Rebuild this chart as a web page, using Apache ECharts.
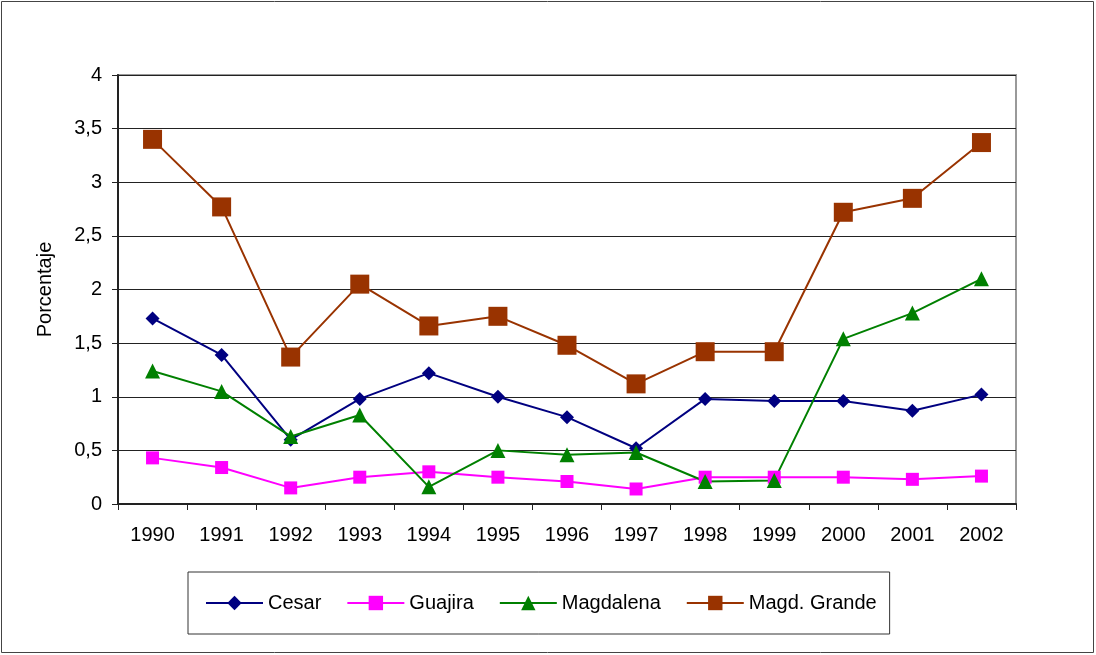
<!DOCTYPE html>
<html>
<head>
<meta charset="utf-8">
<script src="https://cdn.jsdelivr.net/npm/echarts@6/dist/echarts.min.js"></script>
<style>
  html, body { margin: 0; padding: 0; background: #fff; }
  #chart { width: 1096px; height: 655px; }
</style>
</head>
<body>
<div id="chart"></div>
<script>
// años
var years = ["1990", "1991", "1992", "1993", "1994", "1995", "1996", "1997", "1998", "1999", "2000", "2001", "2002"];

// porcentajes por departamento
var cesar = [1.73, 1.39, 0.60, 0.98, 1.22, 1.00, 0.81, 0.52, 0.98, 0.96, 0.96, 0.87, 1.02];
var guajira = [0.43, 0.34, 0.15, 0.25, 0.30, 0.25, 0.21, 0.14, 0.25, 0.25, 0.25, 0.23, 0.26];
var magdalena = [1.24, 1.05, 0.63, 0.83, 0.16, 0.50, 0.46, 0.48, 0.21, 0.22, 1.54, 1.78, 2.10];
var magdGrande = [3.40, 2.77, 1.37, 2.05, 1.66, 1.75, 1.48, 1.12, 1.42, 1.42, 2.72, 2.85, 3.37];

var fontFam = "'Liberation Sans', Arial, sans-serif";

var chart = echarts.init(document.getElementById("chart"));

function serie(name, data, color, symbol, size) {
  return {
    name: name,
    type: "line",
    data: data,
    symbol: symbol,
    symbolSize: size,
    showAllSymbol: true,
    animation: false,
    lineStyle: { color: color, width: 2 },
    itemStyle: { color: color },
    z: 3
  };
}

chart.setOption({
  animation: false,
  graphic: [
    {
      type: "rect",
      shape: { x: 1.5, y: 1.5, width: 1092, height: 651 },
      style: { fill: "none", stroke: "#444", lineWidth: 1 },
      silent: true
    },
    {
      type: "rect",
      shape: { x: 118, y: 75, width: 898, height: 429 },
      style: { fill: "none", stroke: "#999", lineWidth: 2 },
      silent: true,
      z: 0
    }
  ],
  grid: {
    left: 118,
    top: 75,
    right: 80,
    bottom: 151,
    containLabel: false
  },
  legend: {
    left: 188,
    top: 572,
    padding: [21, 13, 21, 17],
    borderColor: "#333",
    borderWidth: 1,
    itemGap: 25,
    itemWidth: 57,
    itemHeight: 18,
    textStyle: { fontFamily: fontFam, fontSize: 20, color: "#000" },
    data: ["Cesar", "Guajira", "Magdalena", "Magd. Grande"]
  },
  xAxis: {
    type: "category",
    data: years,
    boundaryGap: true,
    axisLine: { lineStyle: { color: "#222", width: 2 } },
    axisTick: { show: true, alignWithLabel: false, length: 6, lineStyle: { color: "#222" } },
    axisLabel: { fontFamily: fontFam, fontSize: 20, color: "#000", margin: 21 },
    splitLine: { show: false }
  },
  yAxis: {
    type: "value",
    min: 0,
    max: 4,
    interval: 0.5,
    name: "Porcentaje",
    nameLocation: "middle",
    nameGap: 63,
    nameTextStyle: { fontFamily: fontFam, fontSize: 20, color: "#000" },
    axisLine: { show: true, lineStyle: { color: "#222", width: 2 } },
    axisTick: { show: true, length: 6, lineStyle: { color: "#222" } },
    axisLabel: {
      fontFamily: fontFam,
      fontSize: 20,
      color: "#000",
      margin: 16,
      formatter: function (v) { return String(v).replace(".", ","); }
    },
    splitLine: { show: true, lineStyle: { color: "#222", width: 1 } }
  },
  series: [
    serie("Cesar", cesar, "#000080", "diamond", 14),
    serie("Guajira", guajira, "#ff00ff", "rect", 13),
    serie("Magdalena", magdalena, "#008000", "triangle", 15),
    serie("Magd. Grande", magdGrande, "#993300", "rect", 19)
  ]
});
</script>
</body>
</html>
